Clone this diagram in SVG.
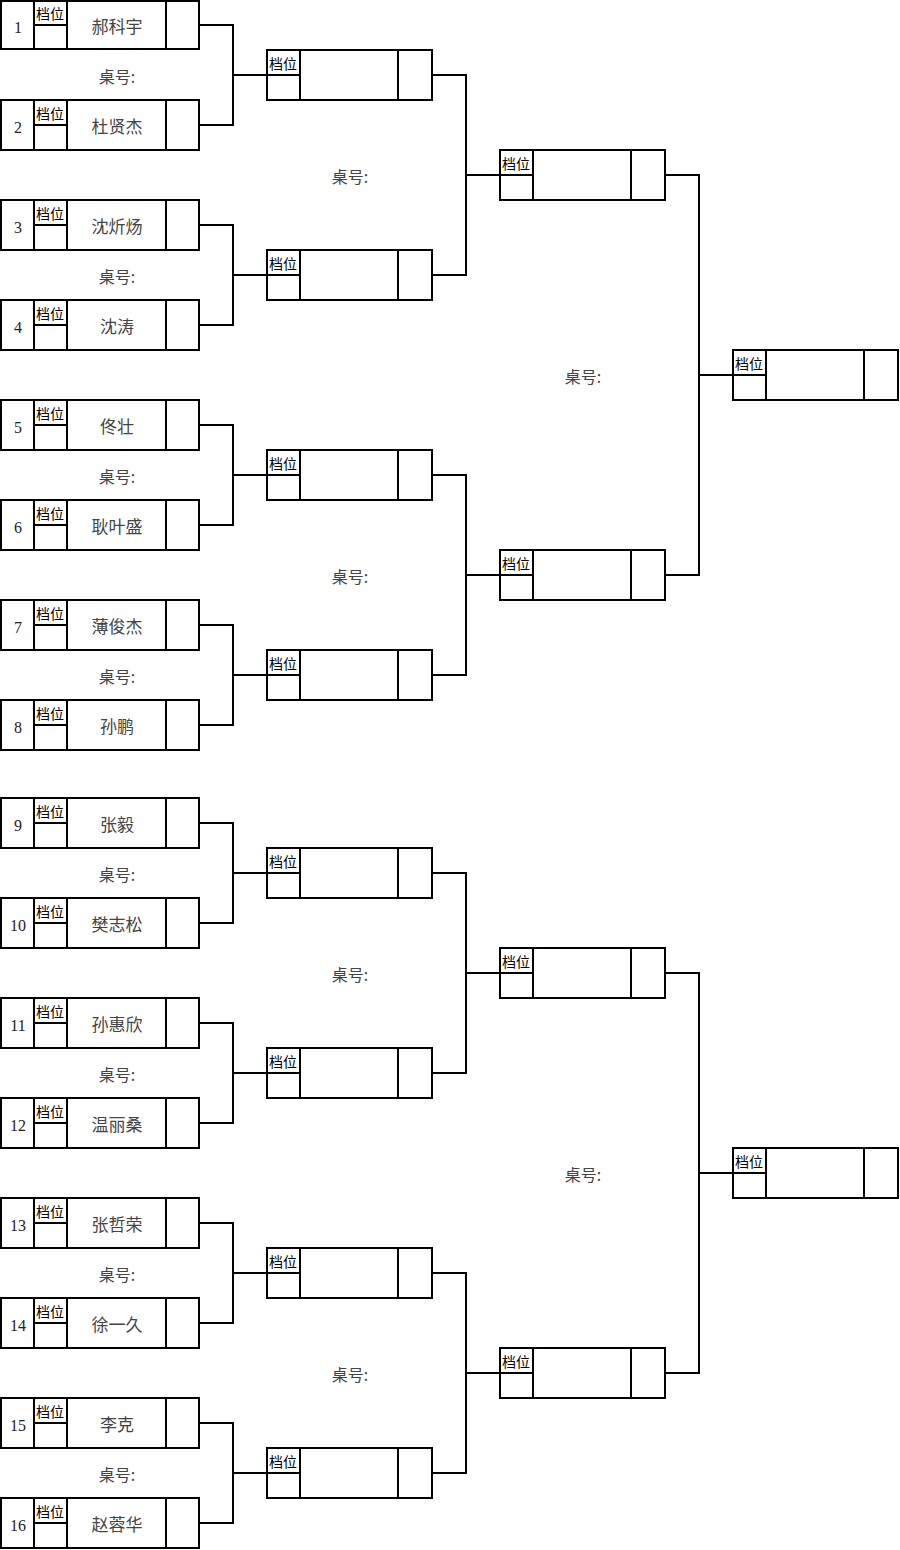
<svg xmlns="http://www.w3.org/2000/svg" width="900" height="1550" viewBox="0 0 900 1550">
<style>
.b{fill:none;stroke:#000;stroke-width:2}
.c{fill:none;stroke:#000;stroke-width:2}
.n{font-family:"Liberation Serif","Noto Sans CJK SC",serif;font-size:16px;fill:#222;text-anchor:middle}
.g{font-family:"Noto Sans CJK SC",sans-serif;font-size:14px;fill:#000}
.m{font-family:"Noto Sans CJK SC",sans-serif;font-size:17px;fill:#444;text-anchor:middle}
.l{font-family:"Noto Sans CJK SC",sans-serif;font-size:16px;fill:#444;text-anchor:middle}
</style>
<rect width="900" height="1550" fill="#fff"/>
<g id="connectors">
<path class="c" d="M199 25H233V125H199M233 75H267"/>
<path class="c" d="M199 225H233V325H199M233 275H267"/>
<path class="c" d="M199 425H233V525H199M233 475H267"/>
<path class="c" d="M199 625H233V725H199M233 675H267"/>
<path class="c" d="M199 823H233V923H199M233 873H267"/>
<path class="c" d="M199 1023H233V1123H199M233 1073H267"/>
<path class="c" d="M199 1223H233V1323H199M233 1273H267"/>
<path class="c" d="M199 1423H233V1523H199M233 1473H267"/>
<path class="c" d="M432 75H466V275H432M466 175H500"/>
<path class="c" d="M432 475H466V675H432M466 575H500"/>
<path class="c" d="M432 873H466V1073H432M466 973H500"/>
<path class="c" d="M432 1273H466V1473H432M466 1373H500"/>
<path class="c" d="M665 175H699V575H665M699 375H733"/>
<path class="c" d="M665 973H699V1373H665M699 1173H733"/>
</g>
<g id="labels">
<text class="l" x="117" y="83">桌号:</text>
<text class="l" x="117" y="283">桌号:</text>
<text class="l" x="117" y="483">桌号:</text>
<text class="l" x="117" y="683">桌号:</text>
<text class="l" x="117" y="881">桌号:</text>
<text class="l" x="117" y="1081">桌号:</text>
<text class="l" x="117" y="1281">桌号:</text>
<text class="l" x="117" y="1481">桌号:</text>
<text class="l" x="350" y="183">桌号:</text>
<text class="l" x="350" y="583">桌号:</text>
<text class="l" x="350" y="981">桌号:</text>
<text class="l" x="350" y="1381">桌号:</text>
<text class="l" x="583" y="383">桌号:</text>
<text class="l" x="583" y="1181">桌号:</text>
</g>
<g id="p1"><rect class="b" x="1" y="1" width="198" height="48"/><path class="b" d="M34 1V49M67 1V49M166 1V49M34 25H67"/><text class="n" x="18" y="33">1</text><text class="g" x="36" y="19">档位</text><text class="m" x="117" y="33">郝科宇</text></g>
<g id="p2" transform="translate(0,100)"><rect class="b" x="1" y="0" width="198" height="50"/><path class="b" d="M34 0V50M67 0V50M166 0V50M34 25H67"/><text class="n" x="18" y="33">2</text><text class="g" x="36" y="19">档位</text><text class="m" x="117" y="33">杜贤杰</text></g>
<g id="p3" transform="translate(0,200)"><rect class="b" x="1" y="0" width="198" height="50"/><path class="b" d="M34 0V50M67 0V50M166 0V50M34 25H67"/><text class="n" x="18" y="33">3</text><text class="g" x="36" y="19">档位</text><text class="m" x="117" y="33">沈炘炀</text></g>
<g id="p4" transform="translate(0,300)"><rect class="b" x="1" y="0" width="198" height="50"/><path class="b" d="M34 0V50M67 0V50M166 0V50M34 25H67"/><text class="n" x="18" y="33">4</text><text class="g" x="36" y="19">档位</text><text class="m" x="117" y="33">沈涛</text></g>
<g id="p5" transform="translate(0,400)"><rect class="b" x="1" y="0" width="198" height="50"/><path class="b" d="M34 0V50M67 0V50M166 0V50M34 25H67"/><text class="n" x="18" y="33">5</text><text class="g" x="36" y="19">档位</text><text class="m" x="117" y="33">佟壮</text></g>
<g id="p6" transform="translate(0,500)"><rect class="b" x="1" y="0" width="198" height="50"/><path class="b" d="M34 0V50M67 0V50M166 0V50M34 25H67"/><text class="n" x="18" y="33">6</text><text class="g" x="36" y="19">档位</text><text class="m" x="117" y="33">耿叶盛</text></g>
<g id="p7" transform="translate(0,600)"><rect class="b" x="1" y="0" width="198" height="50"/><path class="b" d="M34 0V50M67 0V50M166 0V50M34 25H67"/><text class="n" x="18" y="33">7</text><text class="g" x="36" y="19">档位</text><text class="m" x="117" y="33">薄俊杰</text></g>
<g id="p8" transform="translate(0,700)"><rect class="b" x="1" y="0" width="198" height="50"/><path class="b" d="M34 0V50M67 0V50M166 0V50M34 25H67"/><text class="n" x="18" y="33">8</text><text class="g" x="36" y="19">档位</text><text class="m" x="117" y="33">孙鹏</text></g>
<g id="p9" transform="translate(0,798)"><rect class="b" x="1" y="0" width="198" height="50"/><path class="b" d="M34 0V50M67 0V50M166 0V50M34 25H67"/><text class="n" x="18" y="33">9</text><text class="g" x="36" y="19">档位</text><text class="m" x="117" y="33">张毅</text></g>
<g id="p10" transform="translate(0,898)"><rect class="b" x="1" y="0" width="198" height="50"/><path class="b" d="M34 0V50M67 0V50M166 0V50M34 25H67"/><text class="n" x="18" y="33">10</text><text class="g" x="36" y="19">档位</text><text class="m" x="117" y="33">樊志松</text></g>
<g id="p11" transform="translate(0,998)"><rect class="b" x="1" y="0" width="198" height="50"/><path class="b" d="M34 0V50M67 0V50M166 0V50M34 25H67"/><text class="n" x="18" y="33">11</text><text class="g" x="36" y="19">档位</text><text class="m" x="117" y="33">孙惠欣</text></g>
<g id="p12" transform="translate(0,1098)"><rect class="b" x="1" y="0" width="198" height="50"/><path class="b" d="M34 0V50M67 0V50M166 0V50M34 25H67"/><text class="n" x="18" y="33">12</text><text class="g" x="36" y="19">档位</text><text class="m" x="117" y="33">温丽桑</text></g>
<g id="p13" transform="translate(0,1198)"><rect class="b" x="1" y="0" width="198" height="50"/><path class="b" d="M34 0V50M67 0V50M166 0V50M34 25H67"/><text class="n" x="18" y="33">13</text><text class="g" x="36" y="19">档位</text><text class="m" x="117" y="33">张哲荣</text></g>
<g id="p14" transform="translate(0,1298)"><rect class="b" x="1" y="0" width="198" height="50"/><path class="b" d="M34 0V50M67 0V50M166 0V50M34 25H67"/><text class="n" x="18" y="33">14</text><text class="g" x="36" y="19">档位</text><text class="m" x="117" y="33">徐一久</text></g>
<g id="p15" transform="translate(0,1398)"><rect class="b" x="1" y="0" width="198" height="50"/><path class="b" d="M34 0V50M67 0V50M166 0V50M34 25H67"/><text class="n" x="18" y="33">15</text><text class="g" x="36" y="19">档位</text><text class="m" x="117" y="33">李克</text></g>
<g id="p16" transform="translate(0,1498)"><rect class="b" x="1" y="0" width="198" height="50"/><path class="b" d="M34 0V50M67 0V50M166 0V50M34 25H67"/><text class="n" x="18" y="33">16</text><text class="g" x="36" y="19">档位</text><text class="m" x="117" y="33">赵蓉华</text></g>
<g id="r2a" transform="translate(267,50)"><rect class="b" x="0" y="0" width="165" height="50"/><path class="b" d="M33 0V50M131 0V50M0 25H33"/><text class="g" x="2" y="19">档位</text></g>
<g id="r2b" transform="translate(267,250)"><rect class="b" x="0" y="0" width="165" height="50"/><path class="b" d="M33 0V50M131 0V50M0 25H33"/><text class="g" x="2" y="19">档位</text></g>
<g id="r2c" transform="translate(267,450)"><rect class="b" x="0" y="0" width="165" height="50"/><path class="b" d="M33 0V50M131 0V50M0 25H33"/><text class="g" x="2" y="19">档位</text></g>
<g id="r2d" transform="translate(267,650)"><rect class="b" x="0" y="0" width="165" height="50"/><path class="b" d="M33 0V50M131 0V50M0 25H33"/><text class="g" x="2" y="19">档位</text></g>
<g id="r2e" transform="translate(267,848)"><rect class="b" x="0" y="0" width="165" height="50"/><path class="b" d="M33 0V50M131 0V50M0 25H33"/><text class="g" x="2" y="19">档位</text></g>
<g id="r2f" transform="translate(267,1048)"><rect class="b" x="0" y="0" width="165" height="50"/><path class="b" d="M33 0V50M131 0V50M0 25H33"/><text class="g" x="2" y="19">档位</text></g>
<g id="r2g" transform="translate(267,1248)"><rect class="b" x="0" y="0" width="165" height="50"/><path class="b" d="M33 0V50M131 0V50M0 25H33"/><text class="g" x="2" y="19">档位</text></g>
<g id="r2h" transform="translate(267,1448)"><rect class="b" x="0" y="0" width="165" height="50"/><path class="b" d="M33 0V50M131 0V50M0 25H33"/><text class="g" x="2" y="19">档位</text></g>
<g id="r3a" transform="translate(500,150)"><rect class="b" x="0" y="0" width="165" height="50"/><path class="b" d="M33 0V50M131 0V50M0 25H33"/><text class="g" x="2" y="19">档位</text></g>
<g id="r3b" transform="translate(500,550)"><rect class="b" x="0" y="0" width="165" height="50"/><path class="b" d="M33 0V50M131 0V50M0 25H33"/><text class="g" x="2" y="19">档位</text></g>
<g id="r3c" transform="translate(500,948)"><rect class="b" x="0" y="0" width="165" height="50"/><path class="b" d="M33 0V50M131 0V50M0 25H33"/><text class="g" x="2" y="19">档位</text></g>
<g id="r3d" transform="translate(500,1348)"><rect class="b" x="0" y="0" width="165" height="50"/><path class="b" d="M33 0V50M131 0V50M0 25H33"/><text class="g" x="2" y="19">档位</text></g>
<g id="r4a" transform="translate(733,350)"><rect class="b" x="0" y="0" width="165" height="50"/><path class="b" d="M33 0V50M131 0V50M0 25H33"/><text class="g" x="2" y="19">档位</text></g>
<g id="r4b" transform="translate(733,1148)"><rect class="b" x="0" y="0" width="165" height="50"/><path class="b" d="M33 0V50M131 0V50M0 25H33"/><text class="g" x="2" y="19">档位</text></g>
</svg>
